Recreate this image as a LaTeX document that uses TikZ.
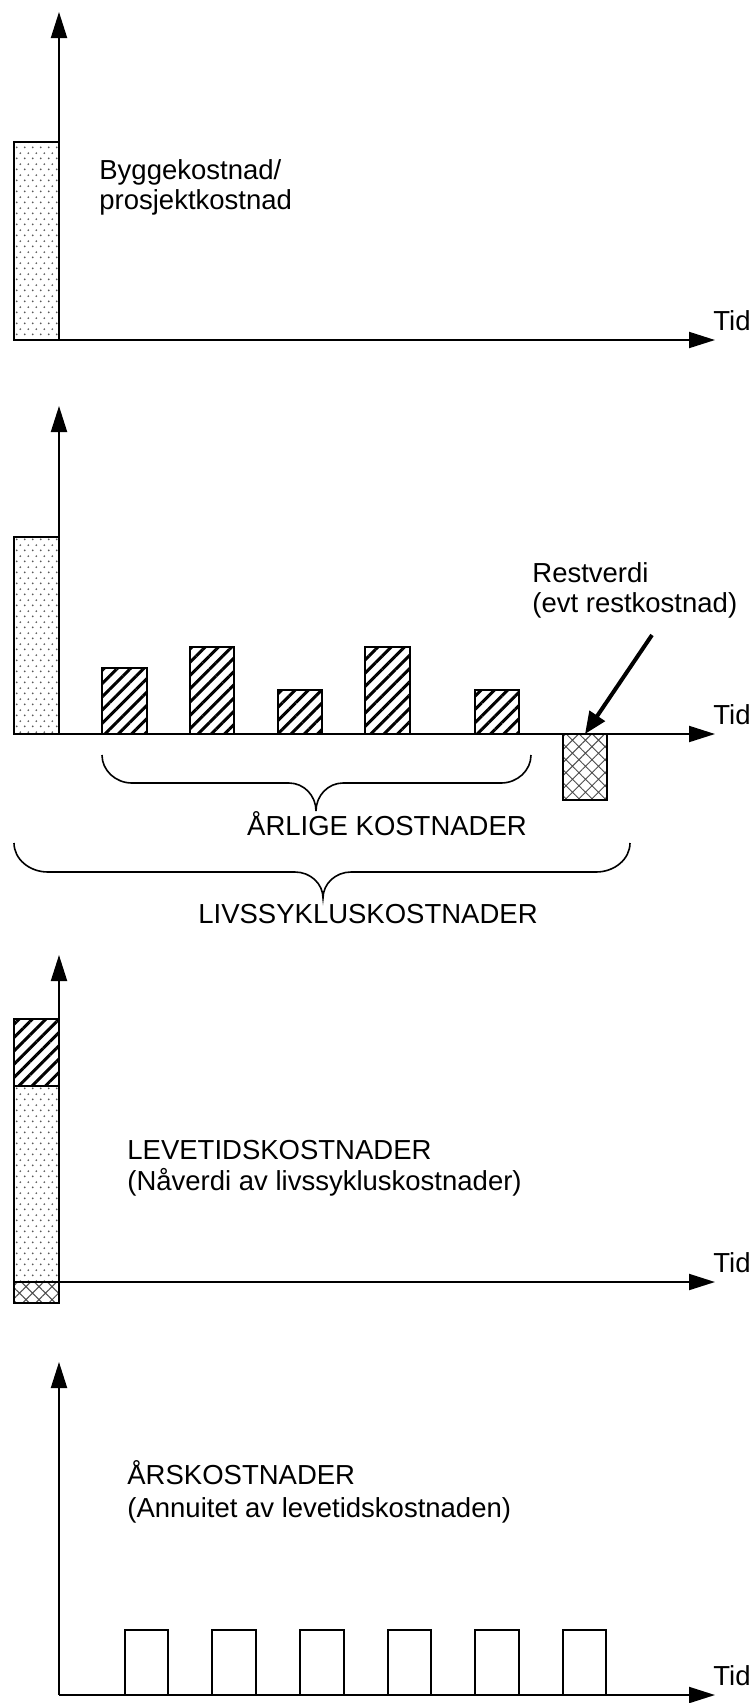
\documentclass[tikz,border=0pt]{standalone}
\usepackage{fontspec}
\setmainfont{Liberation Sans}
\usetikzlibrary{arrows.meta,patterns,patterns.meta}
\pgfdeclarepatternformonly{fdots}{\pgfqpoint{0pt}{0pt}}{\pgfqpoint{3.75pt}{5.6pt}}{\pgfqpoint{3.75pt}{5.6pt}}{%
  \pgfpathcircle{\pgfqpoint{0.9375pt}{1.4pt}}{0.5pt}%
  \pgfpathcircle{\pgfqpoint{2.8125pt}{4.2pt}}{0.5pt}%
  \pgfusepath{fill}}
\begin{document}
\begin{tikzpicture}[x=0.5pt,y=-0.5pt,
  lbl/.style={font=\fontsize{13.75pt}{15pt}\selectfont, inner sep=0pt, anchor=base west},
  clbl/.style={lbl, anchor=base},
  axis/.style={line width=1pt, -{Triangle[length=13pt,width=8pt]}},
  dotbar/.style={draw, line width=1pt, pattern=fdots, pattern color=black!65},
  hatchbar/.style={draw, line width=1pt, pattern={Lines[angle=45,distance=4.7pt,line width=1.5pt]}},
  crossbar/.style={draw, line width=1pt, pattern={Hatch[angle=45,distance=4.6pt,line width=0.5pt]}, pattern color=black!70},
  plainbar/.style={draw, line width=1pt},
  bracepath/.style={line width=0.8pt},
  pointer/.style={line width=2pt, -{Triangle[length=11pt,width=9pt]}}]
\useasboundingbox (0,0) rectangle (754,1703);

% ---------- Panel 1 ----------
\draw[dotbar] (14,142) rectangle (59,340);
\coordinate (o1) at (59,340);
\coordinate (y1) at (59,12);
\coordinate (x1) at (715,340);
\draw[axis] (o1) -- (y1);
\draw[axis] (o1) -- (x1);
\node[lbl] (tid1) at (713,330) {Tid};
\node[lbl] (bk1) at (99,179) {Byggekostnad/};
\node[lbl] (bk2) at (99,209) {prosjektkostnad};

% ---------- Panel 2 ----------
\draw[dotbar] (14,537) rectangle (59,734);
\draw[hatchbar] (102,668) rectangle (147,734);
\draw[hatchbar] (190,647) rectangle (234,734);
\draw[hatchbar] (278,690) rectangle (322,734);
\draw[hatchbar] (365,647) rectangle (410,734);
\draw[hatchbar] (475,690) rectangle (519,734);
\draw[crossbar] (563,734) rectangle (607,800);
\coordinate (o2) at (59,734);
\coordinate (y2) at (59,406);
\coordinate (x2) at (715,734);
\draw[axis] (o2) -- (y2);
\draw[axis] (o2) -- (x2);
\node[lbl] (tid2) at (713,724) {Tid};
\node[lbl] (rv1) at (532,582) {Restverdi};
\node[lbl] (rv2) at (532,612) {(evt restkostnad)};
\coordinate (rvstart) at (652,635);
\coordinate (rvbar) at (585,734);
\draw[pointer] (rvstart) -- (rvbar);
% small brace
\draw[bracepath] (102,755) .. controls (102,770.4) and (115.5,783) .. (132,783)
  -- (289,783) .. controls (303.9,783) and (316,795.6) .. (316,811)
  .. controls (316,795.6) and (328.1,783) .. (343,783)
  -- (501,783) .. controls (517.5,783) and (531,770.4) .. (531,755);
\node[clbl] (arlige) at (387,835) {ÅRLIGE KOSTNADER};
% large brace
\draw[bracepath] (14,843) .. controls (14,859) and (29.3,872) .. (48,872)
  -- (295,872) .. controls (310.4,872) and (323,883.7) .. (323,898)
  .. controls (323,883.7) and (335.6,872) .. (351,872)
  -- (596,872) .. controls (614.7,872) and (630,859) .. (630,843);
\node[clbl] (livs) at (368,923) {LIVSSYKLUSKOSTNADER};

% ---------- Panel 3 ----------
\draw[hatchbar] (14,1019) rectangle (59,1086);
\draw[dotbar] (14,1086) rectangle (59,1282);
\draw[crossbar] (14,1282) rectangle (59,1303);
\coordinate (o3) at (59,1282);
\coordinate (y3) at (59,955);
\coordinate (x3) at (715,1282);
\draw[axis] (o3) -- (y3);
\draw[axis] (o3) -- (x3);
\node[lbl] (tid3) at (713,1272) {Tid};
\node[lbl] (lv1) at (127,1159) {LEVETIDSKOSTNADER};
\node[lbl] (lv2) at (127,1190) {(Nåverdi av livssykluskostnader)};

% ---------- Panel 4 ----------
\foreach \a/\b in {125/168, 212/256, 300/344, 388/431, 475/519, 563/606}
  \draw[plainbar] (\a,1630) rectangle (\b,1695);
\coordinate (o4) at (59,1695);
\coordinate (y4) at (59,1362);
\coordinate (x4) at (715,1695);
\draw[axis] (o4) -- (y4);
\draw[axis] (o4) -- (x4);
\node[lbl] (tid4) at (713,1685) {Tid};
\node[lbl] (ak1) at (127,1484) {ÅRSKOSTNADER};
\node[lbl] (ak2) at (127,1517) {(Annuitet av levetidskostnaden)};
\end{tikzpicture}
\end{document}
